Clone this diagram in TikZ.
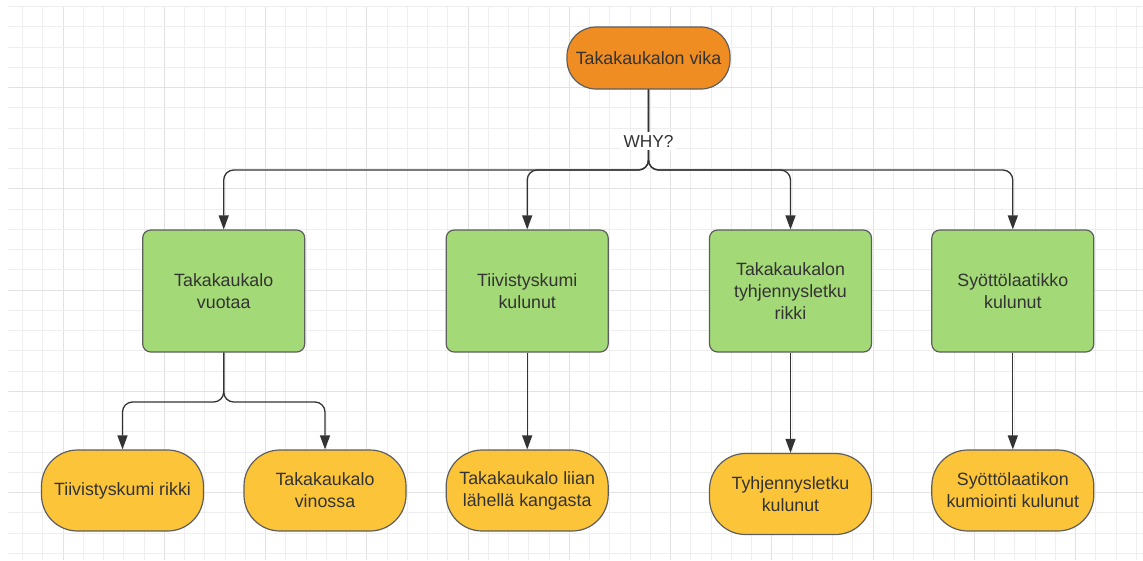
\documentclass[tikz,border=0pt]{standalone}
\usepackage{fontspec}
\setmainfont{Liberation Sans}
\usetikzlibrary{arrows.meta}

\definecolor{gridminor}{HTML}{EEEEEE}
\definecolor{gridmajor}{HTML}{E2E2E2}
\definecolor{inkgray}{HTML}{333333}
\definecolor{edgegray}{HTML}{5E5E5E}
\definecolor{rootfill}{HTML}{EF8D22}
\definecolor{causefill}{HTML}{A3D977}
\definecolor{leaffill}{HTML}{FCC438}

\tikzset{
  basebox/.style={draw=edgegray, line width=1.2pt, text=inkgray, align=center,
    inner sep=0pt, font=\fontsize{17.8}{22}\selectfont},
  rootbox/.style={basebox, fill=rootfill, rounded corners=29pt,
    minimum width=163pt, minimum height=62pt},
  causebox/.style={basebox, fill=causefill, rounded corners=8pt,
    minimum width=162pt, minimum height=122pt},
  leafbox/.style={basebox, fill=leaffill, rounded corners=36pt,
    minimum width=162pt, minimum height=81pt},
  conn/.style={draw=inkgray, line width=1.3pt, rounded corners=10pt,
    -{Triangle[length=14pt,width=10pt]}},
  plainconn/.style={draw=inkgray, line width=1.3pt},
  whylabel/.style={fill=white, text=inkgray, inner sep=3pt,
    font=\fontsize{17.3}{20}\selectfont},
}

\begin{document}
\begin{tikzpicture}[x=1pt, y=-1pt]
\useasboundingbox (0,0) rectangle (1143,560);
\fill[white] (0,0) rectangle (1143,560);

% background grid, every fifth line a little darker
\foreach \k in {0,...,55}{
  \pgfmathsetmacro\gx{22.7+20.25*\k}
  \pgfmathtruncatemacro\gm{mod(\k,5)}
  \ifnum\gm=2
    \draw[gridmajor, line width=1pt] (\gx,6) -- (\gx,560);
  \else
    \draw[gridminor, line width=1pt] (\gx,6) -- (\gx,560);
  \fi
}
\foreach \k in {0,...,27}{
  \pgfmathsetmacro\gy{6.7+20.25*\k}
  \pgfmathtruncatemacro\gm{mod(\k,5)}
  \ifnum\gm=4
    \draw[gridmajor, line width=1pt] (8,\gy) -- (1143,\gy);
  \else
    \draw[gridminor, line width=1pt] (8,\gy) -- (1143,\gy);
  \fi
}

% problem
\node[rootbox] (root) at (648.5,58) {Takakaukalon vika};

% first-level causes
\node[causebox] (c1) at (223.7,291) {Takakaukalo\\vuotaa};
\node[causebox] (c2) at (527.2,291) {Tiivistyskumi\\kulunut};
\node[causebox] (c3) at (790.5,291) {Takakaukalon\\tyhjennysletku\\rikki};
\node[causebox] (c4) at (1012.8,291) {Syöttölaatikko\\kulunut};

% root causes
\node[leafbox] (l1) at (122.5,490.5) {Tiivistyskumi rikki};
\node[leafbox] (l2) at (325,490.5) {Takakaukalo\\vinossa};
\node[leafbox] (l3) at (527.2,490.5) {Takakaukalo liian\\lähellä kangasta};
\node[leafbox] (l4) at (790.5,494) {Tyhjennysletku\\kulunut};
\node[leafbox] (l5) at (1012.8,490.5) {Syöttölaatikon\\kumiointi kulunut};

% branching connectors
\coordinate (bus) at (648.5,170);
\foreach \n in {c1,c2,c3,c4}
  \draw[conn] (root.south) |- (bus -| \n.north) -- (\n.north);

\coordinate (split) at (223.7,402);
\foreach \n in {l1,l2}
  \draw[conn] (c1.south) |- (split -| \n.north) -- (\n.north);

\draw[conn] (c2.south) -- (l3.north);
\draw[conn] (c3.south) -- (l4.north);
\draw[conn] (c4.south) -- (l5.north);

\node[whylabel] (why) at (648.5,141) {WHY?};
\end{tikzpicture}
\end{document}
